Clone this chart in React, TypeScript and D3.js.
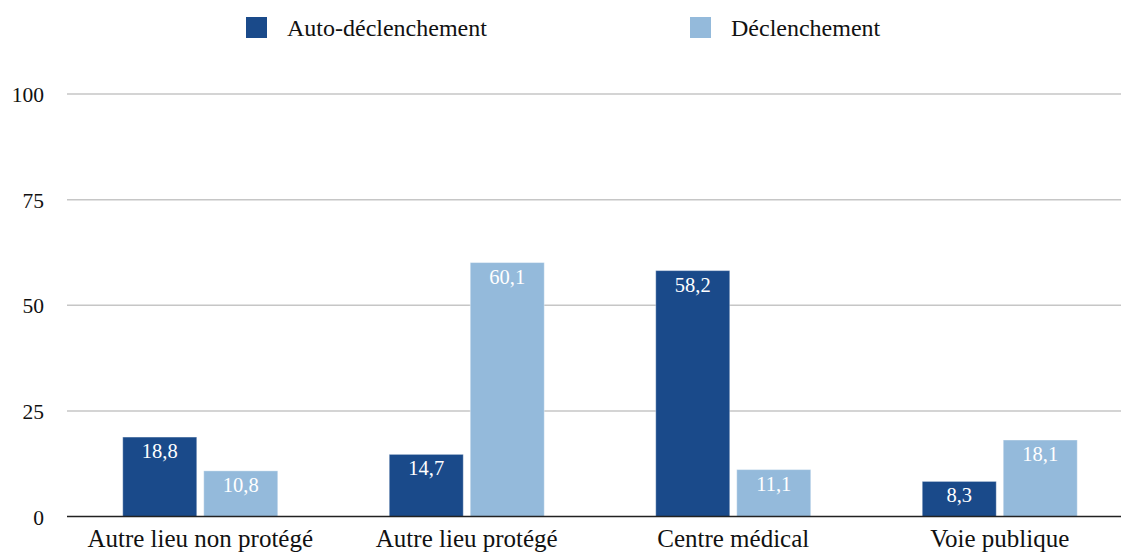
import React, { useEffect, useRef } from 'react';
import * as d3 from 'd3';

const categories = ['Autre lieu non protégé', 'Autre lieu protégé', 'Centre médical', 'Voie publique'];
const seriesNames = ['Auto-déclenchement', 'Déclenchement'];
const autoValues = [18.8, 14.7, 58.2, 8.3];
const declValues = [10.8, 60.1, 11.1, 18.1];
const yTicks = [0, 25, 50, 75, 100];

const App = () => {
  const svgRef = useRef<SVGSVGElement>(null);

  useEffect(() => {
    const svg = d3.select(svgRef.current);
    svg.selectAll('*').remove();

    const width = 1121;
    const height = 556;
    const margin = { top: 94, right: -12, bottom: 39.5, left: 67 };
    const colors = ['#1A4A8A', '#94BADB'];
    const font = 'Liberation Serif, Tinos, Times, DejaVu Serif, serif';

    const x = d3.scaleBand()
      .domain(categories)
      .range([margin.left, width - margin.right])
      .paddingInner(0)
      .paddingOuter(0);

    const y = d3.scaleLinear()
      .domain([0, 100])
      .range([height - margin.bottom, margin.top]);

    const barW = 74;
    const gap = 7;

    svg.attr('font-family', font);

    // gridlines
    svg.append('g')
      .selectAll('line')
      .data(yTicks.filter(t => t > 0))
      .join('line')
      .attr('x1', margin.left)
      .attr('x2', width)
      .attr('y1', d => y(d))
      .attr('y2', d => y(d))
      .attr('stroke', '#c6c6c6')
      .attr('stroke-width', 1.5);

    // y tick labels
    svg.append('g')
      .selectAll('text')
      .data(yTicks)
      .join('text')
      .attr('x', 44)
      .attr('y', d => y(d) + 8)
      .attr('text-anchor', 'end')
      .attr('font-size', 21.5)
      .attr('fill', '#111')
      .text(d => d);

    const series = [autoValues, declValues];
    series.forEach((vals, si) => {
      const g = svg.append('g');
      const bx = (c: string) => x(c)! + x.bandwidth() / 2 + (si === 0 ? -gap / 2 - barW : gap / 2);
      g.selectAll('rect')
        .data(categories)
        .join('rect')
        .attr('x', d => bx(d))
        .attr('y', (d, i) => y(vals[i]))
        .attr('width', barW)
        .attr('height', (d, i) => y(0) - y(vals[i]))
        .attr('fill', colors[si])
        .attr('stroke', 'rgba(255,255,255,0.35)')
        .attr('stroke-width', 1);
      g.selectAll('text')
        .data(categories)
        .join('text')
        .attr('x', d => bx(d) + barW / 2)
        .attr('y', (d, i) => y(vals[i]) + 21)
        .attr('text-anchor', 'middle')
        .attr('font-size', 20.5)
        .attr('fill', '#fff')
        .text((d, i) => String(vals[i]).replace('.', ','));
    });

    // baseline axis
    svg.append('line')
      .attr('x1', margin.left)
      .attr('x2', width)
      .attr('y1', y(0))
      .attr('y2', y(0))
      .attr('stroke', '#222')
      .attr('stroke-width', 1.5);

    // category labels
    svg.append('g')
      .selectAll('text')
      .data(categories)
      .join('text')
      .attr('x', d => x(d)! + x.bandwidth() / 2)
      .attr('y', 547)
      .attr('text-anchor', 'middle')
      .attr('font-size', 25)
      .attr('fill', '#111')
      .text(d => d);

    // legend
    const legendX = [246, 690];
    const legend = svg.append('g')
      .selectAll('g')
      .data(seriesNames)
      .join('g')
      .attr('transform', (d, i) => `translate(${legendX[i]},17)`);
    legend.append('rect')
      .attr('width', 21)
      .attr('height', 21)
      .attr('fill', (d, i) => colors[i]);
    legend.append('text')
      .attr('x', 41)
      .attr('y', 18.5)
      .attr('font-size', 24)
      .attr('fill', '#111')
      .text(d => d);
  }, []);

  return (
    <svg
      ref={svgRef}
      width={1121}
      height={556}
      style={{ position: 'absolute', left: 0, top: 0, background: '#fff' }}
    />
  );
};

export default App;
